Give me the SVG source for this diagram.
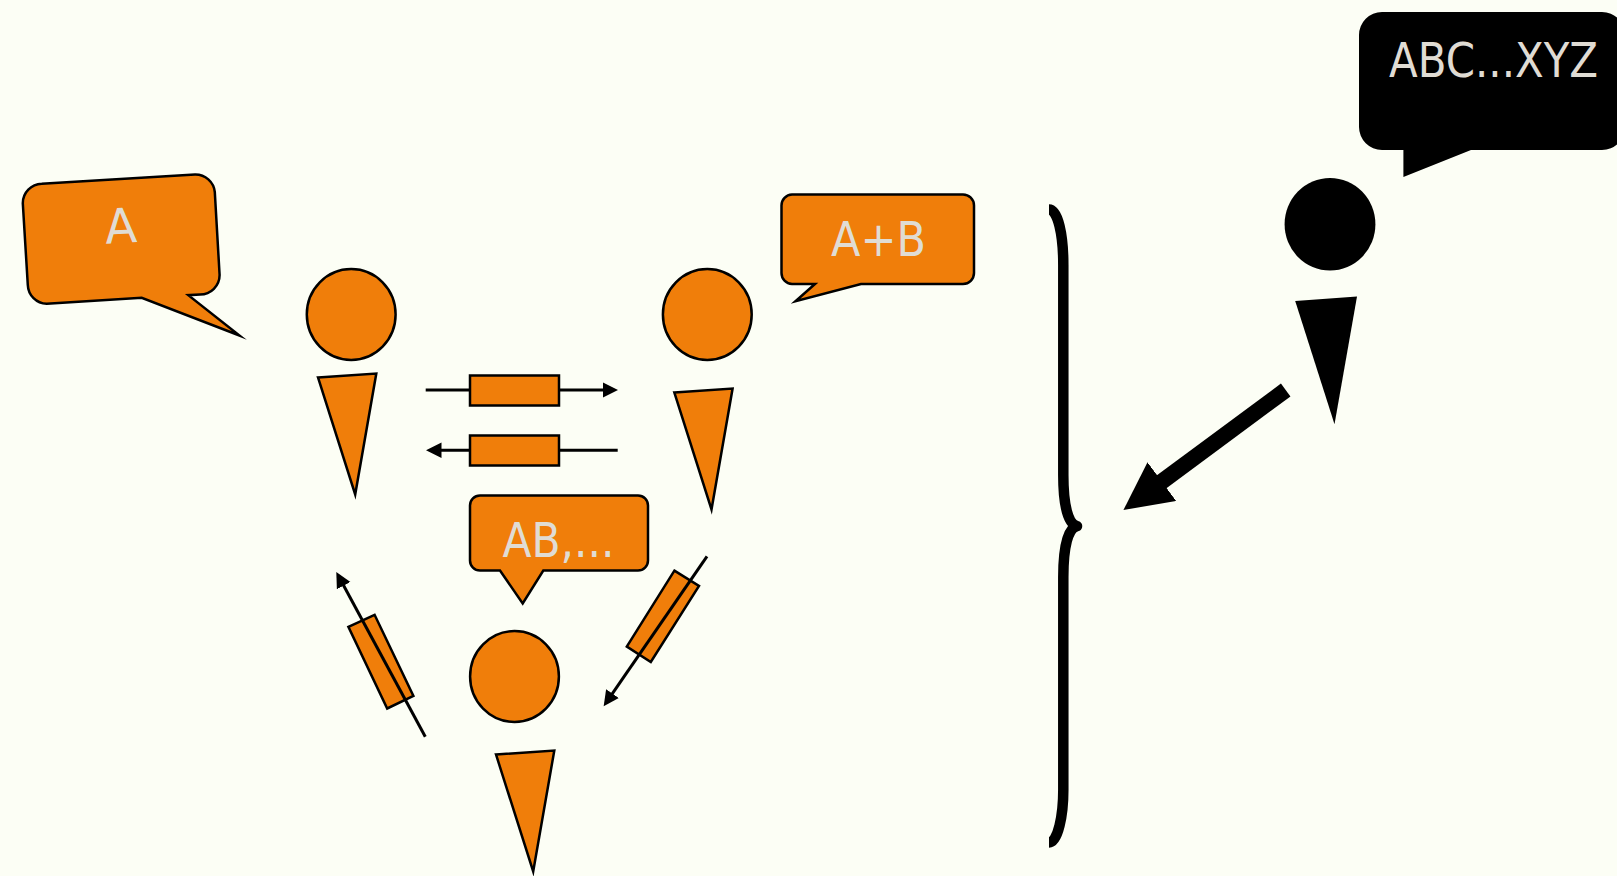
<svg xmlns="http://www.w3.org/2000/svg" width="1617" height="876" viewBox="0 0 1617 876">
<style>
.o{fill:#f07e0a;stroke:#000;stroke-width:2.5;stroke-miterlimit:12;stroke-linejoin:miter}
.k{fill:#000;stroke:none}
.w{fill:none;stroke:#000;stroke-width:3}
.t{font-family:"DejaVu Sans",sans-serif;font-size:48px;fill:#e0dcd4}
</style>
<defs>
<marker id="h" markerUnits="userSpaceOnUse" markerWidth="18" markerHeight="18" refX="7.5" refY="8" orient="auto"><path d="M0,0.3L15.5,8L0,15.7z" fill="#000"/></marker>
<marker id="H" markerUnits="userSpaceOnUse" markerWidth="50" markerHeight="50" refX="1" refY="24" orient="auto"><path d="M0,0L47.7,24L0,48z" fill="#000"/></marker>
</defs>
<rect width="1617" height="876" fill="#fcfef5"/>
<g id="person-a">
<path class="o" d="M41.7,183.8L195,174.5A19.5,19.5 0 0 1 214.8,192L219.6,275A19.5,19.5 0 0 1 200,294.6L188.3,295.2L239.5,335.5L141.7,297.8L46.7,303.8A19.5,19.5 0 0 1 27.8,285L22.8,203.3A19.5,19.5 0 0 1 41.7,183.8Z"/>
<text class="t" x="105" y="243" textLength="32" lengthAdjust="spacingAndGlyphs" transform="rotate(-3 121 228)">A</text>
<ellipse class="o" cx="351.2" cy="314.5" rx="44.4" ry="45.4"/>
<polygon class="o" points="318,377.5 376.3,373.5 355.2,494.5"/>
</g>
<g id="person-b">
<path class="o" d="M792,194.5H963A11,11 0 0 1 974,205.5V273A11,11 0 0 1 963,284H861L795.5,301.3L815,284H792A11,11 0 0 1 781.5,273V205.5A11,11 0 0 1 792,194.5Z"/>
<text class="t" x="831" y="256" textLength="95" lengthAdjust="spacingAndGlyphs">A+B</text>
<ellipse class="o" cx="707.3" cy="314.5" rx="44.4" ry="45.4"/>
<polygon class="o" points="674.3,392.5 732.6,388.5 711.5,509.5"/>
</g>
<g id="person-c">
<path class="o" d="M480,495.5H638A10,10 0 0 1 648,505.5V560.5A10,10 0 0 1 638,570.5H543.3L522.7,603.5L500,570.5H480A10,10 0 0 1 470,560.5V505.5A10,10 0 0 1 480,495.5Z"/>
<text class="t" x="502.5" y="557" textLength="112" lengthAdjust="spacingAndGlyphs">AB,...</text>
<ellipse class="o" cx="514.5" cy="676.5" rx="44.4" ry="45.4"/>
<polygon class="o" points="496,754.5 554.3,750.5 533.2,871.5"/>
</g>
<g id="person-d">
<path class="k" d="M1382,12H1602A23,23 0 0 1 1625,35V127A23,23 0 0 1 1602,150H1471L1403.4,177V150H1382A23,23 0 0 1 1359,127V35A23,23 0 0 1 1382,12Z"/>
<text class="t" transform="translate(1389,77) scale(.874,1)">ABC...XYZ</text>
<ellipse class="k" cx="1330" cy="224.3" rx="45.4" ry="46.3"/>
<polygon class="k" points="1295.2,301 1357,296.5 1334.5,424.2"/>
</g>
<g id="brace">
<path d="M1049,209.5C1058,209.5 1063.3,235 1063.3,265V475C1063.3,505 1068,524 1077,526C1068,528 1063.3,547 1063.3,577V790C1063.3,815 1058,842.5 1049,842.5" fill="none" stroke="#000" stroke-width="10.5" stroke-linejoin="round"/>
</g>
<g id="connectors">
<line class="w" x1="425.7" y1="390" x2="610" y2="390" marker-end="url(#h)"/>
<rect class="o" x="470" y="375.5" width="89" height="30"/>
<line class="w" x1="617.7" y1="450.3" x2="434" y2="450.3" marker-end="url(#h)"/>
<rect class="o" x="470" y="435.5" width="89" height="30"/>
<polygon class="o" points="348.4,626.8 374.6,614.8 413.4,695.9 387.2,708.5"/>
<line class="w" x1="425.3" y1="736.7" x2="340.1" y2="579" marker-end="url(#h)"/>
<polygon class="o" points="674.4,570.6 699,585.9 650.8,662 626.8,646.5"/>
<line class="w" x1="707" y1="556.3" x2="608.2" y2="699.7" marker-end="url(#h)"/>
<line x1="1285.7" y1="390" x2="1161" y2="482.2" stroke="#000" stroke-width="16" marker-end="url(#H)"/>
</g>
</svg>
